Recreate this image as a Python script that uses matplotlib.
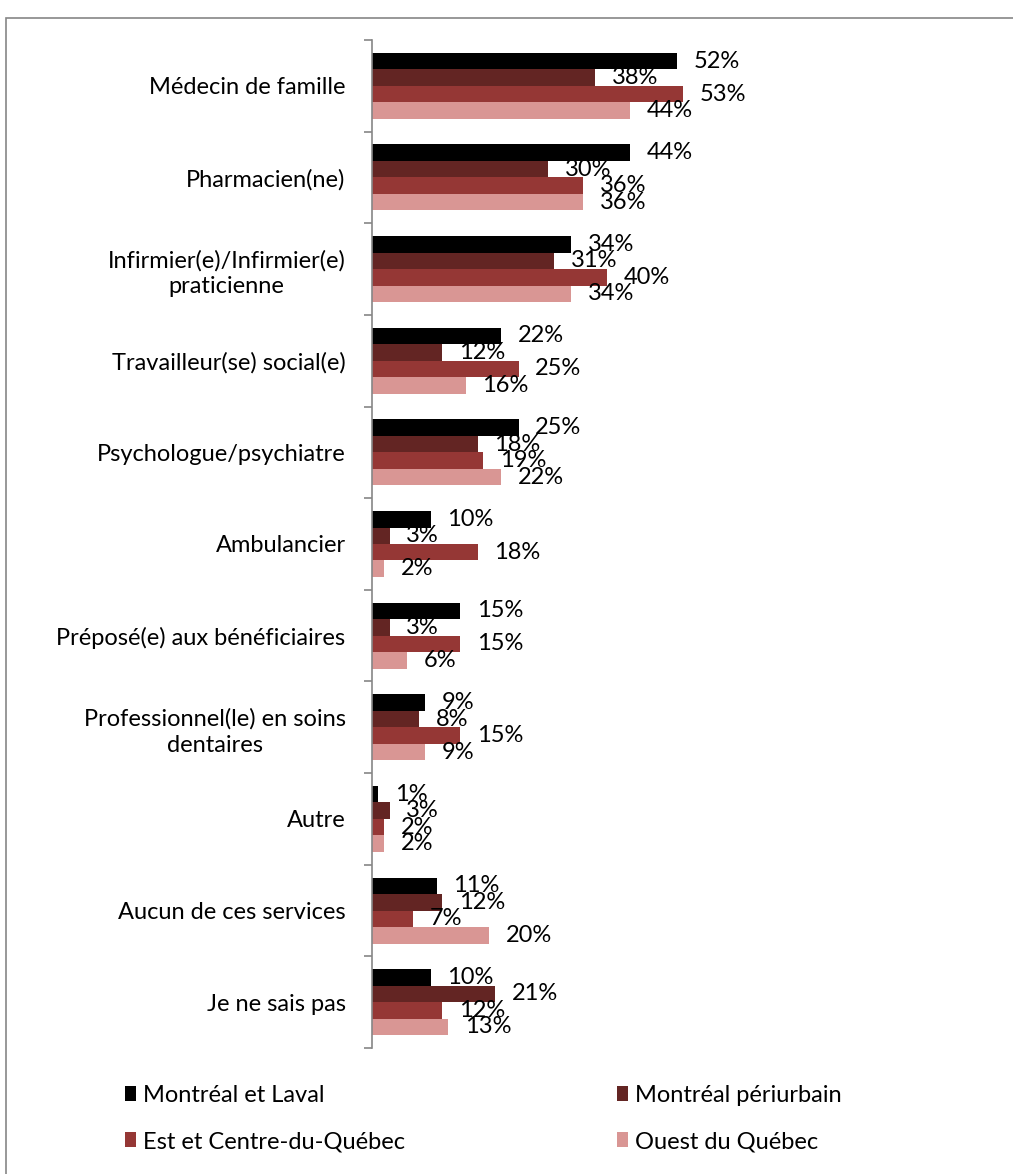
import numpy as np
import matplotlib
matplotlib.use('Agg')
from matplotlib import pyplot as plt
from matplotlib.patches import Rectangle, Patch

#-------------------------------------------------

categories = ['Médecin de famille', 'Pharmacien(ne)',
              'Infirmier(e)/Infirmier(e)\npraticienne',
              'Travailleur(se) social(e)', 'Psychologue/psychiatre',
              'Ambulancier', 'Préposé(e) aux bénéficiaires',
              'Professionnel(le) en soins\ndentaires', 'Autre',
              'Aucun de ces services', 'Je ne sais pas']

regions = ['Montréal et Laval', 'Montréal périurbain',
           'Est et Centre-du-Québec', 'Ouest du Québec']

montreal_laval   = [52, 44, 34, 22, 25, 10, 15, 9, 1, 11, 10]
montreal_periurb = [38, 30, 31, 12, 18, 3, 3, 8, 3, 12, 21]
est_centre       = [53, 36, 40, 25, 19, 18, 15, 15, 2, 7, 12]
ouest            = [44, 36, 34, 16, 22, 2, 6, 9, 2, 20, 13]

series = [montreal_laval, montreal_periurb, est_centre, ouest]
colors = ['#000000', '#632523', '#953735', '#D99694']

#-------------------------------------------------

plt.rcParams['font.family'] = ['Lato', 'DejaVu Sans']
fs = 17

fig = plt.figure(figsize=(10.13, 11.74), dpi=100)

# outer chart frame
fig.patches.append(Rectangle((6/1013., -0.01), 1.05, 1 - 18/1174. + 0.01,
                             transform=fig.transFigure, fill=False,
                             edgecolor='#868686', linewidth=1.2))

ax = fig.add_axes([372/1013., 1 - 1048/1174., (958.5 - 372)/1013., (1048 - 40)/1174.])

n = len(categories)
y = np.arange(n)
h = 0.18
for i, (vals, c) in enumerate(zip(series, colors)):
    pos = y - 1.5*h + i*h
    ax.barh(pos, vals, height=h, color=c, label=regions[i])
    for p, v in zip(pos, vals):
        ax.annotate('%d%%' % v, (v, p), xytext=(12, 0), textcoords='offset points',
                    ha='left', va='center', fontsize=fs, color='black')

ax.set_xlim(0, 100)
ax.set_ylim(n - 0.5, -0.5)

ax.set_yticks(y)
ax.set_yticklabels(categories, fontsize=fs, ha='right', multialignment='center',
                   linespacing=1.3)
ax.tick_params(axis='y', which='major', length=0, pad=19)
ax.set_yticks(np.arange(-0.5, n, 1.0), minor=True)
ax.tick_params(axis='y', which='minor', length=6, color='#868686', width=1.2)
ax.set_xticks([])

for s in ['top', 'right', 'bottom']:
    ax.spines[s].set_visible(False)
ax.spines['left'].set_color('#868686')
ax.spines['left'].set_linewidth(1.2)

# legend filled row by row
order = [0, 2, 1, 3]
handles = [Patch(facecolor=colors[k]) for k in order]
labels = [regions[k] for k in order]
fig.legend(handles, labels, loc='upper left', bbox_to_anchor=(104/1013., 1 - 1064/1174.),
           ncol=2, frameon=False, fontsize=fs, handlelength=0.45, handleheight=0.6,
           handletextpad=0.3, columnspacing=9.0, labelspacing=1.05)

fig.savefig('out.png', dpi=100)
plt.close(fig)
